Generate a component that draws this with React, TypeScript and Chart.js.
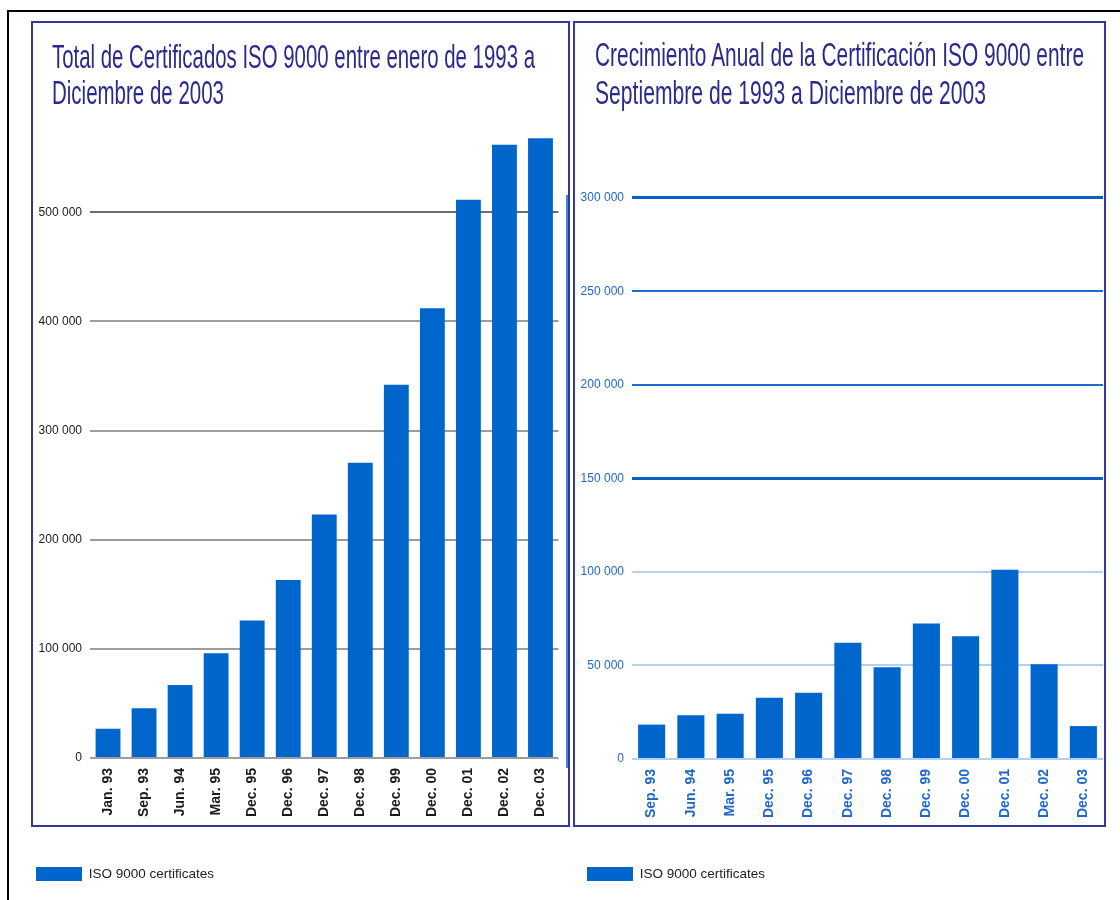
import React, { useEffect, useRef } from "react";
import { Chart, registerables } from "chart.js";

Chart.register(...registerables);

// Cumulative certificates, January 1993 to December 2003
const totalLabels = [
  "Jan. 93", "Sep. 93", "Jun. 94", "Mar. 95", "Dec. 95", "Dec. 96", "Dec. 97",
  "Dec. 98", "Dec. 99", "Dec. 00", "Dec. 01", "Dec. 02", "Dec. 03",
];
const totalValues = [
  26900, 45600, 67000, 96000, 126000, 163000, 223000,
  270500, 342000, 412000, 511400, 562000, 567900,
];
const totalTicks = [0, 100000, 200000, 300000, 400000, 500000];

// Growth between consecutive survey dates
const growthLabels = [
  "Sep. 93", "Jun. 94", "Mar. 95", "Dec. 95", "Dec. 96", "Dec. 97",
  "Dec. 98", "Dec. 99", "Dec. 00", "Dec. 01", "Dec. 02", "Dec. 03",
];
const growthValues = [
  18400, 23400, 24200, 32700, 35400, 62200,
  49000, 72400, 65600, 101200, 50600, 17600,
];
const growthTicks = [0, 50000, 100000, 150000, 200000, 250000, 300000];

const seriesName = "ISO 9000 certificates";

const leftTitle = [
  "Total de Certificados ISO 9000 entre enero de 1993 a",
  "Diciembre de 2003",
];
const rightTitle = [
  "Crecimiento Anual de la Certificación ISO 9000 entre",
  "Septiembre de 1993 a Diciembre de 2003",
];

const NARROW = "'Liberation Sans Narrow', 'Liberation Sans', Arial, sans-serif";
const BAR_BLUE = "#0066cc";

const groupThousands = (v: number) =>
  String(v).replace(/\B(?=(\d{3})+(?!\d))/g, " ");

type PanelProps = {
  left: number;
  top: number;
  width: number;
  height: number;
  labels: string[];
  values: number[];
  ticks: number[];
  max: number;
  padRight: number;
  yWidth: number;
  xHeight: number;
  tickColor: string;
  gridColor: (v: number) => string;
  gridWidth: (v: number) => number;
};

function BarPanel(p: PanelProps) {
  const ref = useRef<HTMLCanvasElement | null>(null);

  useEffect(() => {
    if (!ref.current) return;
    const chart = new Chart(ref.current, {
      type: "bar",
      data: {
        labels: p.labels,
        datasets: [
          {
            label: seriesName,
            data: p.values,
            backgroundColor: BAR_BLUE,
            borderWidth: 0,
            barPercentage: 0.69,
            categoryPercentage: 1,
          },
        ],
      },
      options: {
        responsive: false,
        animation: false,
        devicePixelRatio: 1,
        layout: { padding: { left: 10, right: p.padRight, top: 10, bottom: 9 } },
        plugins: {
          tooltip: { enabled: false },
          title: { display: false },
          legend: {
            display: true,
            position: "bottom",
            align: "start",
            labels: {
              boxWidth: 46,
              boxHeight: 14,
              padding: 10,
              color: "#222222",
              font: { family: NARROW, size: 13.5 },
            },
          },
        },
        scales: {
          x: {
            grid: { display: false, drawTicks: false },
            border: { display: false },
            ticks: {
              autoSkip: false,
              minRotation: 90,
              maxRotation: 90,
              padding: 10,
              color: p.tickColor,
              font: { family: NARROW, size: 14, weight: "bold" },
            },
            afterFit: (scale: any) => {
              scale.height = p.xHeight;
              scale.paddingLeft = 0;
              scale.paddingRight = 0;
            },
          },
          y: {
            min: 0,
            max: p.max,
            afterBuildTicks: (scale: any) => {
              scale.ticks = p.ticks.map((value) => ({ value }));
            },
            afterFit: (scale: any) => {
              scale.width = p.yWidth;
              scale.paddingTop = 0;
              scale.paddingBottom = 0;
            },
            border: { display: false },
            grid: {
              drawTicks: false,
              color: (ctx: any) => p.gridColor(ctx.tick.value),
              lineWidth: (ctx: any) => p.gridWidth(ctx.tick.value),
            },
            ticks: {
              padding: 8,
              color: p.tickColor,
              font: { family: NARROW, size: 12 },
              callback: (v: any) => groupThousands(Number(v)),
            },
          },
        },
      },
    });
    return () => chart.destroy();
  }, []);

  return (
    <canvas
      ref={ref}
      width={p.width}
      height={p.height}
      style={{
        position: "absolute",
        left: p.left,
        top: p.top,
        width: p.width,
        height: p.height,
        display: "block",
      }}
    />
  );
}

function TitleLines({
  x,
  baselines,
  lengths,
  lines,
}: {
  x: number;
  baselines: number[];
  lengths: number[];
  lines: string[];
}) {
  return (
    <>
      {lines.map((line, i) => (
        <text
          key={i}
          x={x}
          y={baselines[i]}
          textLength={lengths[i]}
          lengthAdjust="spacingAndGlyphs"
          fontFamily={NARROW}
          fontSize={33}
          fill="#2a2a8e"
        >
          {line}
        </text>
      ))}
    </>
  );
}

export default function App() {
  return (
    <div
      style={{
        position: "fixed",
        left: 0,
        top: 0,
        width: 1120,
        height: 900,
        overflow: "hidden",
        background: "#ffffff",
      }}
    >
      <BarPanel
        left={16}
        top={115}
        width={553}
        height={785}
        labels={totalLabels}
        values={totalValues}
        ticks={totalTicks}
        max={580000}
        padRight={10.5}
        yWidth={64}
        xHeight={99}
        tickColor="#1a1a1a"
        gridColor={(v) => (v === 500000 ? "#6e6e6e" : "#9c9c9c")}
        gridWidth={() => 2}
      />
      <BarPanel
        left={567}
        top={115}
        width={553}
        height={785}
        labels={growthLabels}
        values={growthValues}
        ticks={growthTicks}
        max={339000}
        padRight={17}
        yWidth={55}
        xHeight={98}
        tickColor="#1f66c9"
        gridColor={(v) =>
          v === 150000 || v === 300000
            ? "#0a5fc6"
            : v === 200000 || v === 250000
            ? "#1d6ccf"
            : "#b4d0f0"
        }
        gridWidth={(v) => (v === 150000 || v === 300000 ? 3 : 2)}
      />

      {/* frames */}
      <div
        style={{
          position: "absolute",
          left: 7,
          top: 10,
          width: 1300,
          height: 1000,
          border: "2px solid #000000",
          boxSizing: "border-box",
          pointerEvents: "none",
        }}
      />
      <div
        style={{
          position: "absolute",
          left: 31,
          top: 21,
          width: 539,
          height: 806,
          border: "2px solid #3535a0",
          boxSizing: "border-box",
          pointerEvents: "none",
        }}
      />
      <div
        style={{
          position: "absolute",
          left: 573,
          top: 21,
          width: 533,
          height: 806,
          border: "2px solid #3535a0",
          boxSizing: "border-box",
          pointerEvents: "none",
        }}
      />
      <div
        style={{
          position: "absolute",
          left: 566,
          top: 195,
          width: 1.5,
          height: 573,
          background: "#3c86dc",
          pointerEvents: "none",
        }}
      />

      <svg
        width={1120}
        height={900}
        style={{ position: "absolute", left: 0, top: 0, pointerEvents: "none" }}
      >
        <TitleLines x={52} baselines={[68, 104]} lengths={[483, 172]} lines={leftTitle} />
        <TitleLines x={595} baselines={[66, 104]} lengths={[489, 391]} lines={rightTitle} />
      </svg>
    </div>
  );
}
